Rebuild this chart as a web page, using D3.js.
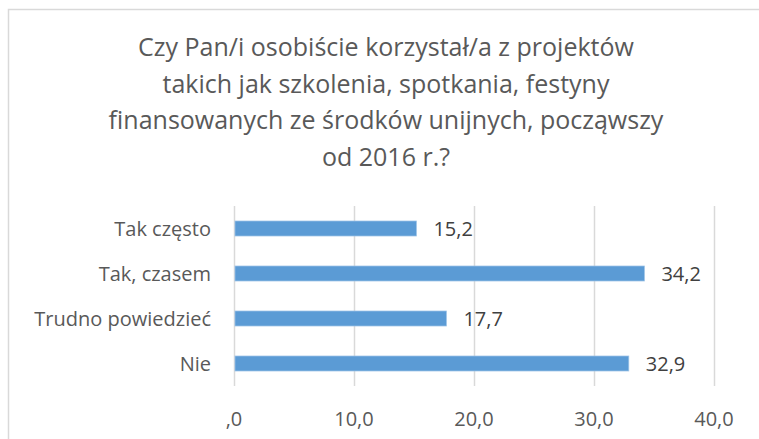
<!DOCTYPE html>
<html>
<head>
<meta charset="utf-8">
<script src="https://cdn.jsdelivr.net/npm/d3@7"></script>
<style>
  html, body { margin: 0; padding: 0; background: #fff; }
  svg { display: block; }
</style>
</head>
<body>
<script>
const titleLines = [
  "Czy Pan/i osobiście korzystał/a z projektów",
  "takich jak szkolenia, spotkania, festyny",
  "finansowanych ze środków unijnych, począwszy",
  "od 2016 r.?"
];
const categories = ["Tak często", "Tak, czasem", "Trudno powiedzieć", "Nie"];
const values = [15.2, 34.2, 17.7, 32.9];
const ticks = [0, 10, 20, 30, 40];

const width = 759, height = 439;
const font = "'Open Sans', sans-serif";
const textColor = "#595959";

const svg = d3.select("body").append("svg")
  .attr("width", width)
  .attr("height", height)
  .style("font-family", font);

// chart border (runs off right/bottom)
svg.append("rect")
  .attr("x", 8.5).attr("y", 9.5)
  .attr("width", width + 20).attr("height", height + 20)
  .attr("fill", "#fff")
  .attr("stroke", "#d9d9d9")
  .attr("stroke-width", 1.5);

// title
svg.append("g")
  .selectAll("text")
  .data(titleLines)
  .join("text")
  .attr("x", 386)
  .attr("y", (d, i) => 56 + i * 36.5)
  .attr("text-anchor", "middle")
  .attr("fill", textColor)
  .style("font-size", "25px")
  .text(d => d);

const x = d3.scaleLinear().domain([0, 40]).range([234, 714]);
const y = d3.scaleBand().domain(categories).range([206, 386]).paddingInner(2 / 3).paddingOuter(1 / 3);

// gridlines
svg.append("g")
  .selectAll("line")
  .data(ticks)
  .join("line")
  .attr("x1", d => x(d) + 0.5).attr("x2", d => x(d) + 0.5)
  .attr("y1", 206).attr("y2", 386)
  .attr("stroke", "#d9d9d9")
  .attr("stroke-width", 1.5);

// bars
svg.append("g")
  .selectAll("rect")
  .data(categories)
  .join("rect")
  .attr("x", x(0) + 1)
  .attr("y", d => y(d))
  .attr("width", (d, i) => x(values[i]) - x(0) - 1)
  .attr("height", y.bandwidth())
  .attr("fill", "#5b9bd5")
  .attr("stroke", "#9dc3e6")
  .attr("stroke-width", 0.75);

// value labels
svg.append("g")
  .selectAll("text")
  .data(categories)
  .join("text")
  .attr("x", (d, i) => x(values[i]) + 17)
  .attr("y", d => y(d) + y.bandwidth() / 2)
  .attr("dy", "0.36em")
  .attr("fill", "#404040")
  .style("font-size", "20px")
  .text((d, i) => d3.format(".1f")(values[i]).replace(".", ","));

// category labels
svg.append("g")
  .selectAll("text")
  .data(categories)
  .join("text")
  .attr("x", 211)
  .attr("y", d => y(d) + y.bandwidth() / 2)
  .attr("dy", "0.36em")
  .attr("text-anchor", "end")
  .attr("fill", textColor)
  .style("font-size", "20px")
  .text(d => d);

// x tick labels
svg.append("g")
  .selectAll("text")
  .data(ticks)
  .join("text")
  .attr("x", d => x(d))
  .attr("y", 426)
  .attr("text-anchor", "middle")
  .attr("fill", textColor)
  .style("font-size", "20px")
  .text(d => d === 0 ? ",0" : d3.format(".1f")(d).replace(".", ","));
</script>
</body>
</html>
